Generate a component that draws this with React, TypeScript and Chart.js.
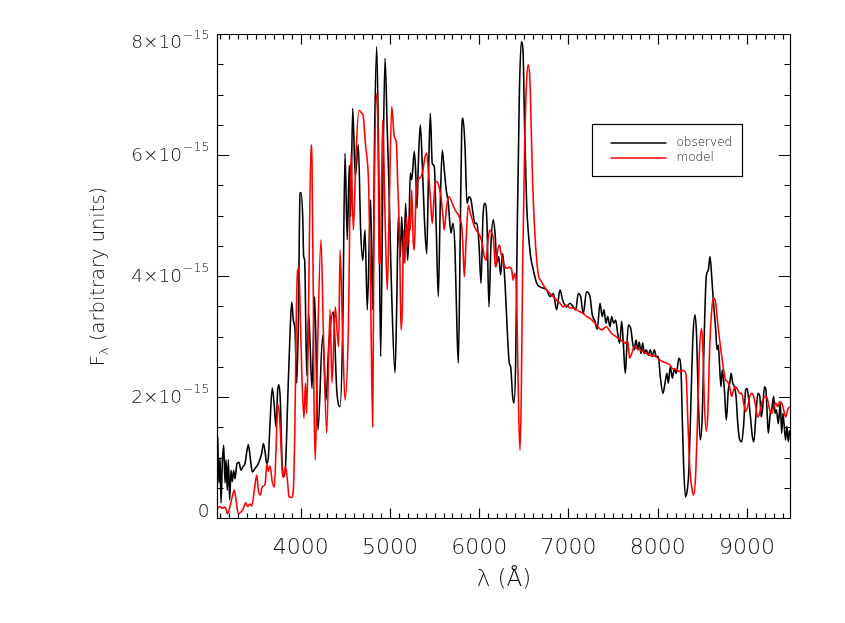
import React, { useEffect, useRef } from "react";
import { Chart, registerables } from "chart.js";

Chart.register(...registerables);

// Axis ranges (wavelength in Å, flux in units of 10^-15)
const X_MIN = 3063;
const X_MAX = 9481;
const Y_MIN = 0;
const Y_MAX = 8;
const FLUX_EXPONENT = -15;
const X_MAJOR_TICKS = [4000, 5000, 6000, 7000, 8000, 9000];
const Y_MAJOR_TICKS = [0, 2, 4, 6, 8];
const SERIES_LABELS = ["observed", "model"];
const SERIES_COLORS = ["#000000", "#ff0000"];
const X_TITLE = "λ (Å)";
const Y_TITLE_MAIN = "F";
const Y_TITLE_SUB = "λ";
const Y_TITLE_REST = " (arbitrary units)";

const observedWavelength = [
  3071, 3085, 3097, 3108, 3122, 3138, 3153, 3164, 3178, 3190, 3205, 3220, 3234, 3250, 3265, 3287, 3309, 3332, 3354, 3377,
  3399, 3414, 3436, 3458, 3489, 3526, 3564, 3582, 3601, 3620, 3638, 3657, 3682, 3705, 3724, 3743, 3757, 3772, 3794, 3813,
  3832, 3855, 3881, 3900, 3918, 3937, 3956, 3974, 3993, 4004, 4023, 4034, 4045, 4068, 4090, 4127, 4157, 4194, 4247, 4284,
  4314, 4366, 4404, 4441, 4471, 4497, 4522, 4545, 4560, 4583, 4612, 4646, 4672, 4695, 4721, 4746, 4784, 4807, 4829, 4852,
  4874, 4896, 4919, 4945, 4970, 4986, 5015, 5057, 5076, 5094, 5116, 5132, 5154, 5176, 5199, 5213, 5228, 5244, 5273, 5289,
  5303, 5318, 5340, 5362, 5385, 5412, 5430, 5452, 5474, 5497, 5519, 5542, 5564, 5586, 5609, 5631, 5654, 5684, 5706, 5729,
  5751, 5766, 5788, 5804, 5818, 5841, 5863, 5885, 5908, 5930, 5953, 5975, 5997, 6020, 6042, 6065, 6087, 6109, 6132, 6158,
  6180, 6196, 6218, 6240, 6263, 6289, 6314, 6337, 6352, 6375, 6389, 6408, 6426, 6449, 6471, 6490, 6509, 6531, 6554, 6576,
  6606, 6644, 6681, 6718, 6756, 6793, 6830, 6867, 6905, 6935, 6980, 7017, 7054, 7081, 7110, 7136, 7166, 7202, 7241, 7266,
  7297, 7322, 7353, 7378, 7397, 7420, 7439, 7465, 7484, 7506, 7528, 7551, 7573, 7596, 7614, 7636, 7652, 7670, 7700, 7719,
  7737, 7756, 7775, 7793, 7812, 7831, 7849, 7871, 7894, 7916, 7938, 7961, 7983, 8006, 8028, 8058, 8081, 8103, 8118, 8140,
  8163, 8185, 8207, 8237, 8260, 8274, 8290, 8310, 8332, 8349, 8372, 8394, 8417, 8435, 8454, 8476, 8498, 8521, 8543, 8566,
  8585, 8604, 8622, 8649, 8663, 8678, 8693, 8708, 8723, 8746, 8768, 8790, 8806, 8821, 8840, 8858, 8877, 8896, 8918, 8940,
  8963, 8985, 9000, 9015, 9038, 9060, 9076, 9098, 9121, 9143, 9158, 9173, 9195, 9211, 9223, 9238, 9260, 9276, 9298, 9313,
  9328, 9350, 9372, 9388, 9402, 9417, 9432, 9447, 9462, 9477,
];
const observedFlux = [
  1.34, 0.58, 1.0, 0.25, 0.9, 1.2, 0.58, 0.96, 0.46, 0.96, 0.3, 0.79, 0.6, 0.79, 0.65, 0.9, 0.92, 0.79, 0.85, 0.9,
  1.12, 1.21, 0.99, 0.76, 0.82, 0.9, 1.07, 1.23, 1.1, 0.9, 1.0, 1.57, 2.15, 1.85, 1.5, 2.12, 2.2, 1.95, 0.84, 0.68,
  0.9, 1.95, 3.05, 3.57, 3.27, 3.1, 2.23, 3.2, 5.37, 5.38, 4.98, 4.32, 4.26, 2.36, 3.38, 2.14, 3.66, 1.45, 3.02, 1.95,
  2.83, 3.41, 2.12, 1.84, 3.11, 6.03, 4.6, 5.83, 4.98, 6.77, 5.64, 6.17, 4.76, 4.26, 4.76, 3.44, 5.26, 3.44, 6.41, 7.79,
  5.86, 2.67, 5.31, 7.6, 6.41, 5.64, 3.93, 2.4, 3.5, 4.98, 4.32, 4.98, 4.21, 5.2, 4.26, 4.76, 5.7, 5.59, 6.06, 5.7,
  5.12, 5.86, 6.5, 5.86, 4.98, 4.37, 5.53, 6.69, 5.86, 5.81, 4.76, 3.66, 5.2, 6.08, 5.75, 5.42, 5.2, 4.71, 4.87, 4.43,
  3.11, 2.56, 4.76, 6.41, 6.61, 6.14, 5.2, 5.31, 5.26, 5.04, 4.87, 4.87, 4.54, 3.88, 4.98, 5.2, 4.87, 3.49, 4.54, 4.93,
  4.65, 4.21, 4.32, 4.02, 4.37, 3.88, 3.11, 2.56, 2.5, 2.0, 1.9, 2.56, 4.76, 6.96, 7.87, 7.74, 6.41, 5.2, 4.65, 4.32,
  4.1, 3.88, 3.82, 3.8, 3.77, 3.66, 3.71, 3.44, 3.77, 3.6, 3.49, 3.55, 3.49, 3.44, 3.71, 3.66, 3.38, 3.74, 3.66, 3.36,
  3.25, 3.12, 3.55, 3.33, 3.44, 3.22, 3.33, 3.16, 3.33, 3.22, 3.27, 3.05, 2.89, 3.25, 2.89, 2.39, 2.78, 3.19, 3.11, 2.89,
  2.78, 2.94, 2.78, 2.91, 2.72, 2.89, 2.72, 2.78, 2.69, 2.78, 2.67, 2.78, 2.67, 2.67, 2.34, 2.06, 2.23, 2.39, 2.23, 2.5,
  2.31, 2.47, 2.39, 2.64, 2.45, 1.67, 0.85, 0.35, 0.48, 0.8, 1.95, 3.0, 3.36, 3.0, 1.95, 1.29, 1.67, 3.05, 3.99, 4.1,
  4.32, 3.99, 3.6, 3.11, 2.78, 2.86, 2.5, 2.17, 2.45, 2.12, 1.62, 2.12, 2.23, 2.39, 2.23, 2.17, 2.01, 1.56, 1.29, 1.26,
  1.56, 2.12, 2.14, 2.01, 1.67, 1.34, 1.26, 1.67, 2.06, 2.01, 1.67, 1.79, 2.17, 2.12, 1.79, 1.4, 1.73, 1.79, 2.01, 1.73,
  1.79, 1.56, 1.9, 1.4, 1.73, 1.51, 1.29, 1.51, 1.26, 1.45,
];

const modelWavelength = [
  3071, 3097, 3122, 3153, 3183, 3209, 3234, 3257, 3276, 3302, 3332, 3358, 3384, 3407, 3429, 3452, 3481, 3508, 3526, 3548,
  3570, 3601, 3623, 3638, 3657, 3682, 3705, 3724, 3743, 3757, 3776, 3799, 3817, 3832, 3855, 3869, 3900, 3918, 3937, 3951,
  3967, 3981, 3996, 4015, 4037, 4054, 4068, 4090, 4116, 4127, 4142, 4149, 4164, 4186, 4228, 4254, 4292, 4329, 4351, 4388,
  4410, 4426, 4441, 4471, 4497, 4534, 4564, 4590, 4620, 4653, 4684, 4702, 4728, 4740, 4762, 4784, 4807, 4821, 4852, 4866,
  4881, 4892, 4919, 4945, 4970, 4993, 5020, 5049, 5073, 5087, 5101, 5112, 5124, 5138, 5154, 5169, 5184, 5199, 5213, 5228,
  5244, 5262, 5273, 5289, 5303, 5325, 5348, 5370, 5393, 5412, 5430, 5452, 5474, 5490, 5505, 5527, 5549, 5572, 5594, 5609,
  5631, 5654, 5676, 5698, 5721, 5743, 5766, 5788, 5804, 5818, 5833, 5855, 5878, 5900, 5922, 5945, 5967, 5990, 6012, 6034,
  6057, 6079, 6095, 6117, 6140, 6160, 6177, 6188, 6202, 6225, 6244, 6263, 6289, 6314, 6337, 6364, 6381, 6397, 6412, 6426,
  6442, 6457, 6471, 6487, 6509, 6531, 6549, 6568, 6583, 6599, 6621, 6644, 6666, 6688, 6718, 6756, 6793, 6830, 6867, 6905,
  6941, 6980, 7017, 7054, 7092, 7129, 7166, 7204, 7241, 7297, 7334, 7372, 7401, 7428, 7453, 7484, 7521, 7558, 7588, 7614,
  7641, 7663, 7685, 7708, 7737, 7764, 7801, 7838, 7876, 7913, 7950, 7988, 8025, 8062, 8100, 8137, 8163, 8193, 8223, 8249,
  8274, 8304, 8320, 8337, 8360, 8385, 8401, 8423, 8446, 8468, 8491, 8506, 8521, 8543, 8559, 8581, 8604, 8626, 8649, 8671,
  8693, 8716, 8738, 8760, 8783, 8805, 8827, 8850, 8872, 8895, 8917, 8940, 8962, 8985, 9007, 9030, 9052, 9074, 9097, 9119,
  9141, 9164, 9186, 9209, 9231, 9253, 9276, 9298, 9321, 9343, 9365, 9388, 9410, 9433, 9455, 9477,
];
const modelFlux = [
  0.16, 0.19, 0.16, 0.18, 0.07, 0.19, 0.35, 0.46, 0.3, 0.07, 0.1, 0.16, 0.25, 0.19, 0.23, 0.2, 0.46, 0.71, 0.46, 0.38,
  0.52, 0.55, 0.9, 0.77, 0.86, 0.6, 0.51, 1.12, 1.87, 1.79, 1.34, 0.68, 0.77, 0.85, 0.57, 0.35, 0.34, 0.46, 1.67, 3.33,
  4.1, 4.13, 3.33, 2.3, 1.65, 2.23, 1.73, 3.66, 6.17, 5.86, 3.66, 2.0, 0.96, 2.56, 4.6, 3.11, 1.4, 3.44, 2.23, 3.49,
  3.05, 2.83, 4.43, 3.0, 1.95, 3.11, 6.03, 4.76, 6.03, 6.74, 6.69, 6.63, 6.14, 6.0, 5.48, 3.66, 1.51, 4.76, 7.02, 6.41,
  4.21, 4.2, 6.58, 5.0, 3.77, 5.2, 6.8, 6.3, 6.2, 5.53, 4.98, 4.21, 3.11, 3.44, 4.76, 4.21, 4.98, 4.48, 4.98, 4.76,
  5.42, 4.54, 4.43, 5.2, 5.53, 5.61, 5.64, 5.75, 5.97, 6.03, 5.75, 5.31, 4.87, 5.2, 5.53, 5.56, 5.48, 5.31, 4.98, 4.76,
  5.09, 5.31, 5.28, 5.2, 5.12, 5.06, 5.01, 4.93, 4.82, 4.48, 3.99, 4.65, 5.17, 5.04, 4.93, 4.82, 4.76, 4.71, 4.65, 4.54,
  4.32, 4.26, 4.54, 4.76, 4.71, 4.6, 4.21, 4.15, 4.37, 4.51, 4.37, 4.26, 4.15, 4.13, 4.15, 4.1, 3.93, 4.04, 3.96, 3.11,
  1.73, 1.12, 2.0, 4.21, 6.14, 7.24, 7.49, 7.24, 6.41, 5.53, 4.76, 4.26, 3.99, 3.93, 3.85, 3.77, 3.71, 3.66, 3.6, 3.55,
  3.49, 3.52, 3.47, 3.47, 3.44, 3.41, 3.38, 3.33, 3.3, 3.22, 3.15, 3.11, 3.14, 3.16, 3.11, 3.05, 3.01, 2.97, 2.94, 2.91,
  2.89, 2.93, 2.64, 2.72, 2.83, 2.8, 2.78, 2.75, 2.72, 2.69, 2.68, 2.66, 2.61, 2.58, 2.56, 2.53, 2.47, 2.46, 2.44, 2.42,
  2.44, 2.42, 2.3, 1.6, 0.8, 0.46, 0.38, 0.68, 1.67, 2.78, 3.13, 2.78, 1.95, 1.43, 1.67, 2.78, 3.44, 3.63, 3.55, 3.22,
  2.94, 2.67, 2.45, 2.28, 2.25, 2.17, 2.01, 2.12, 2.17, 2.12, 2.06, 2.06, 1.9, 1.76, 1.84, 2.01, 2.06, 2.01, 1.84, 1.67,
  1.73, 1.9, 1.98, 2.01, 1.95, 1.79, 1.73, 1.84, 1.9, 1.84, 1.92, 1.9, 1.79, 1.67, 1.79, 1.84,
];

const FONT = "'DejaVu Sans', 'Liberation Sans', sans-serif";
const W = "200";
const TEXT_COLOR = "#111111";

function toPoints(xs: number[], ys: number[]) {
  return xs.map((x, i) => ({ x, y: ys[i] }));
}

function drawTickLabelY(ctx: CanvasRenderingContext2D, value: number, xRight: number, yc: number) {
  ctx.textBaseline = "middle";
  ctx.textAlign = "left";
  const mainFont = `${W} 18.5px ${FONT}`;
  const supFont = `${W} 12.5px ${FONT}`;
  if (value === 0) {
    ctx.font = mainFont;
    const w = ctx.measureText("0").width;
    ctx.fillText("0", xRight - w, yc);
    return;
  }
  const main = `${value}×10`;
  const sup = `−${Math.abs(FLUX_EXPONENT)}`;
  ctx.font = mainFont;
  const wMain = ctx.measureText(main).width;
  ctx.font = supFont;
  const wSup = ctx.measureText(sup).width;
  const x0 = xRight - wMain - wSup - 1;
  ctx.font = mainFont;
  ctx.fillText(main, x0, yc);
  ctx.font = supFont;
  ctx.fillText(sup, x0 + wMain + 1, yc - 8);
}

const idlAxesPlugin = {
  id: "idlAxes",
  afterDraw(chart: any) {
    const { ctx, chartArea: a, scales } = chart;
    const xs = scales.x;
    const ys = scales.y;
    const L = Math.round(a.left) + 0.5;
    const R = Math.round(a.right) + 0.5;
    const T = Math.round(a.top) + 0.5;
    const B = Math.round(a.bottom) + 0.5;
    ctx.save();
    ctx.strokeStyle = "#000";
    ctx.lineWidth = 1.2;
    ctx.beginPath();
    ctx.rect(L, T, R - L, B - T);
    // x ticks every 100 Å, major every 1000
    for (let v = Math.ceil(X_MIN / 100) * 100; v <= X_MAX; v += 100) {
      const px = Math.round(xs.getPixelForValue(v)) + 0.5;
      const len = v % 1000 === 0 ? 10 : 5;
      ctx.moveTo(px, B);
      ctx.lineTo(px, B - len);
      ctx.moveTo(px, T);
      ctx.lineTo(px, T + len);
    }
    // y ticks every 0.5, major every 2
    for (let k = 0; k <= (Y_MAX - Y_MIN) * 2; k++) {
      const v = Y_MIN + k * 0.5;
      const py = Math.round(ys.getPixelForValue(v)) + 0.5;
      const len = k % 4 === 0 ? 11.5 : 6;
      ctx.moveTo(L, py);
      ctx.lineTo(L + len, py);
      ctx.moveTo(R, py);
      ctx.lineTo(R - len, py);
    }
    ctx.stroke();

    ctx.fillStyle = TEXT_COLOR;
    // x tick labels
    ctx.font = `${W} 22px ${FONT}`;
    ctx.textAlign = "center";
    ctx.textBaseline = "middle";
    X_MAJOR_TICKS.forEach((v) => {
      ctx.fillText(String(v), xs.getPixelForValue(v), B + 30);
    });
    // y tick labels
    Y_MAJOR_TICKS.forEach((v) => {
      const py = ys.getPixelForValue(v);
      const yc = Math.min(Math.max(py + 1, T + 9), B - 6);
      drawTickLabelY(ctx, v, L - 8, yc);
    });
    // x title
    ctx.font = `${W} 23px ${FONT}`;
    ctx.textAlign = "center";
    ctx.textBaseline = "middle";
    ctx.fillText(X_TITLE, (L + R) / 2, B + 62);
    // y title (rotated) with subscript
    ctx.save();
    ctx.translate(L - 119, (T + B) / 2);
    ctx.rotate(-Math.PI / 2);
    const titleFont = `${W} 19.5px ${FONT}`;
    const subFont = `${W} 13px ${FONT}`;
    ctx.font = titleFont;
    const wF = ctx.measureText(Y_TITLE_MAIN).width;
    const wRest = ctx.measureText(Y_TITLE_REST).width;
    ctx.font = subFont;
    const wSub = ctx.measureText(Y_TITLE_SUB).width;
    const total = wF + wSub + wRest;
    let cx = -total / 2;
    ctx.textAlign = "left";
    ctx.textBaseline = "middle";
    ctx.font = titleFont;
    ctx.fillText(Y_TITLE_MAIN, cx, 0);
    cx += wF;
    ctx.font = subFont;
    ctx.fillText(Y_TITLE_SUB, cx, 6);
    cx += wSub;
    ctx.font = titleFont;
    ctx.fillText(Y_TITLE_REST, cx, 0);
    ctx.restore();

    // legend box
    const lx = 592.5, ly = 124.5, lw = 150, lh = 52;
    ctx.strokeStyle = "#000";
    ctx.lineWidth = 1.2;
    ctx.strokeRect(lx, ly, lw, lh);
    SERIES_LABELS.forEach((label, i) => {
      const yy = ly + 18.5 + i * 15;
      ctx.strokeStyle = SERIES_COLORS[i];
      ctx.lineWidth = 1.3;
      ctx.beginPath();
      ctx.moveTo(lx + 18, yy);
      ctx.lineTo(lx + 74, yy);
      ctx.stroke();
      ctx.fillStyle = TEXT_COLOR;
      ctx.font = `${W} 12px ${FONT}`;
      ctx.textAlign = "left";
      ctx.textBaseline = "middle";
      ctx.fillText(label, lx + 84, yy);
    });
    ctx.restore();
  },
};

export default function App() {
  const canvasRef = useRef<HTMLCanvasElement | null>(null);

  useEffect(() => {
    const canvas = canvasRef.current;
    if (!canvas) return;
    const chart = new Chart(canvas, {
      type: "line",
      data: {
        datasets: [
          {
            label: SERIES_LABELS[0],
            data: toPoints(observedWavelength, observedFlux),
            borderColor: SERIES_COLORS[0],
            borderWidth: 1.6,
            pointRadius: 0,
            fill: false,
            cubicInterpolationMode: "monotone",
            order: 1,
          },
          {
            label: SERIES_LABELS[1],
            data: toPoints(modelWavelength, modelFlux),
            borderColor: SERIES_COLORS[1],
            borderWidth: 1.6,
            pointRadius: 0,
            fill: false,
            cubicInterpolationMode: "monotone",
            order: 0,
          },
        ],
      },
      options: {
        responsive: false,
        animation: false,
        devicePixelRatio: 1,
        layout: { padding: { left: 217, top: 34, right: 55, bottom: 105 } },
        plugins: { legend: { display: false }, tooltip: { enabled: false } },
        events: [],
        scales: {
          x: { type: "linear", min: X_MIN, max: X_MAX, display: false },
          y: { type: "linear", min: Y_MIN, max: Y_MAX, display: false },
        },
      },
      plugins: [idlAxesPlugin],
    });
    return () => chart.destroy();
  }, []);

  return (
    <div style={{ position: "absolute", left: 0, top: 0, width: 845, height: 623, background: "#fff" }}>
      <canvas ref={canvasRef} width={845} height={623} />
    </div>
  );
}
